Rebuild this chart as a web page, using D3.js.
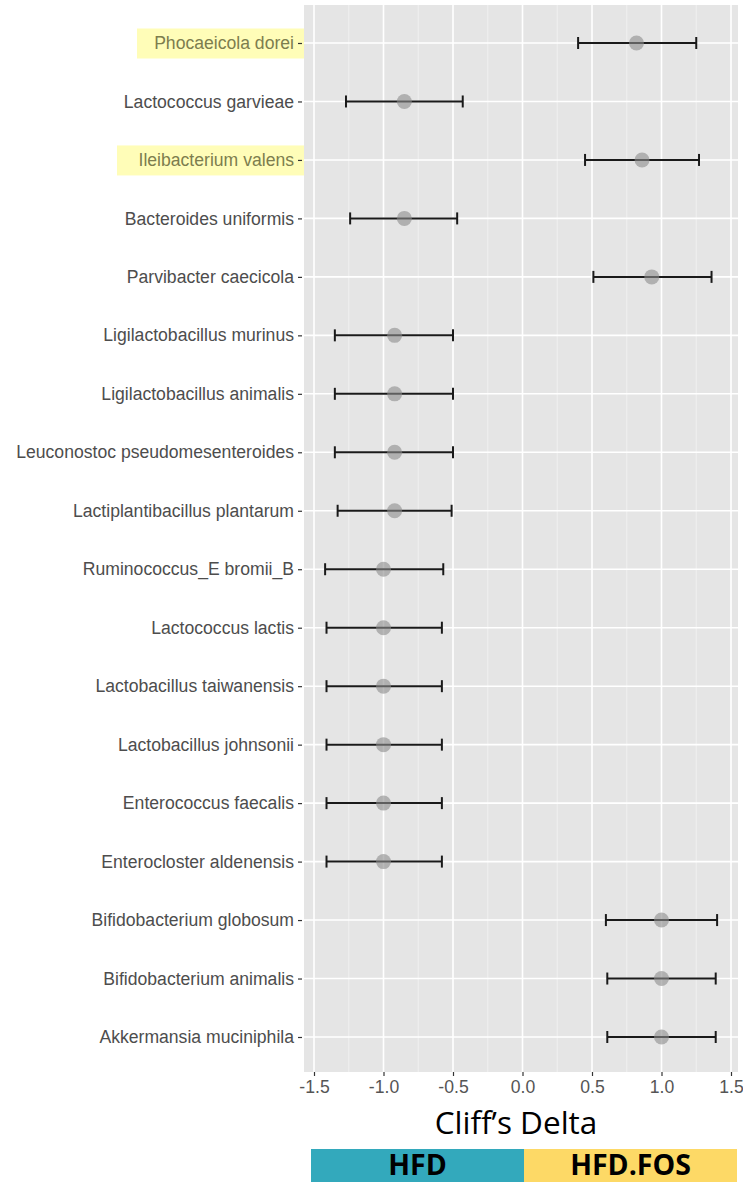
<!DOCTYPE html>
<html><head><meta charset="utf-8">
<script src="https://cdn.jsdelivr.net/npm/d3@7"></script>
<style>body{margin:0;background:#fff}svg{display:block}</style>
</head><body>
<script>
const categories = ["Phocaeicola dorei","Lactococcus garvieae","Ileibacterium valens","Bacteroides uniformis","Parvibacter caecicola","Ligilactobacillus murinus","Ligilactobacillus animalis","Leuconostoc pseudomesenteroides","Lactiplantibacillus plantarum","Ruminococcus_E bromii_B","Lactococcus lactis","Lactobacillus taiwanensis","Lactobacillus johnsonii","Enterococcus faecalis","Enterocloster aldenensis","Bifidobacterium globosum","Bifidobacterium animalis","Akkermansia muciniphila"];
const estimate = [0.82,-0.85,0.86,-0.85,0.93,-0.92,-0.92,-0.92,-0.92,-1.0,-1.0,-1.0,-1.0,-1.0,-1.0,1.0,1.0,1.0];
const lower = [0.40,-1.27,0.45,-1.24,0.51,-1.35,-1.35,-1.35,-1.33,-1.42,-1.41,-1.41,-1.41,-1.41,-1.41,0.60,0.61,0.61];
const upper = [1.25,-0.43,1.27,-0.47,1.36,-0.50,-0.50,-0.50,-0.51,-0.57,-0.58,-0.58,-0.58,-0.58,-0.58,1.40,1.39,1.39];
const highlighted = ["Phocaeicola dorei","Ileibacterium valens"];
const xTicks = [-1.5,-1.0,-0.5,0.0,0.5,1.0,1.5];
const xTickLabels = ["-1.5","-1.0","-0.5","0.0","0.5","1.0","1.5"];
const xTitle = "Cliff\u2019s Delta";
const groups = ["HFD","HFD.FOS"];
const groupColors = ["#33a9bc","#fdd966"];

const W=743,H=1182;
const svg=d3.select("body").append("svg").attr("width",W).attr("height",H);
const pl=304, pr=738, pt=5, pb=1072;
const x=d3.scaleLinear().domain([-1.5,1.5]).range([314,731]);
const y=d3.scalePoint().domain(categories).range([43,1037]);
const axisFont="'Liberation Sans', Arial, sans-serif";
const titleFont="'Open Sans', sans-serif";

svg.append("rect").attr("x",pl).attr("y",pt).attr("width",pr-pl).attr("height",pb-pt).attr("fill","#e5e5e5");
const g=svg.append("g");
const minor=xTicks.slice(0,-1).map((d,i)=>(d+xTicks[i+1])/2);
g.selectAll(".mn").data(minor).join("line").attr("x1",d=>x(d)).attr("x2",d=>x(d)).attr("y1",pt).attr("y2",pb).attr("stroke","#f2f2f2").attr("stroke-width",0.8);
g.selectAll(".mj").data(xTicks).join("line").attr("x1",d=>x(d)).attr("x2",d=>x(d)).attr("y1",pt).attr("y2",pb).attr("stroke","#fff").attr("stroke-width",1.6);
g.selectAll(".hy").data(categories).join("line").attr("x1",pl).attr("x2",pr).attr("y1",d=>y(d)).attr("y2",d=>y(d)).attr("stroke","#fff").attr("stroke-width",1.6);

// highlights
const hlBoxes={"Phocaeicola dorei":[137,304],"Ileibacterium valens":[117,304]};
highlighted.forEach(c=>{
  svg.append("rect").attr("x",hlBoxes[c][0]).attr("y",y(c)-14.5).attr("width",hlBoxes[c][1]-hlBoxes[c][0]).attr("height",30).attr("fill","#fffdb8");
});

// y axis
const yAxis=d3.axisLeft(y).tickSize(4).tickPadding(4);
const ya=svg.append("g").attr("transform",`translate(${pl-2},0)`).call(yAxis);
ya.select(".domain").remove();
ya.selectAll(".tick line").attr("stroke","#333").attr("stroke-width",1.2);
ya.selectAll(".tick text").style("font-family",axisFont).attr("font-size",17.6)
  .attr("fill",d=>highlighted.includes(d)?"#7d7d4e":"#4d4d4d");

// x axis
const xAxis=d3.axisBottom(x).tickValues(xTicks).tickFormat((d,i)=>xTickLabels[i]).tickSize(4).tickPadding(5);
const xa=svg.append("g").attr("transform",`translate(0,${pb})`).call(xAxis);
xa.select(".domain").remove();
xa.selectAll(".tick line").attr("stroke","#333").attr("stroke-width",1.2);
xa.selectAll(".tick text").style("font-family",axisFont).attr("font-size",17.6).attr("fill","#555");

// error bars
const eb=svg.append("g");
categories.forEach((c,i)=>{
  const yy=y(c);
  eb.append("line").attr("x1",x(lower[i])).attr("x2",x(upper[i])).attr("y1",yy).attr("y2",yy).attr("stroke","#1a1a1a").attr("stroke-width",2);
  [lower[i],upper[i]].forEach(v=>eb.append("line").attr("x1",x(v)).attr("x2",x(v)).attr("y1",yy-6).attr("y2",yy+6).attr("stroke","#1a1a1a").attr("stroke-width",2));
});
svg.append("g").selectAll("circle").data(categories).join("circle")
  .attr("cx",(d,i)=>x(estimate[i])).attr("cy",d=>y(d)).attr("r",7.5).attr("fill","#8c8c8c").attr("fill-opacity",0.6);

// x title
svg.append("text").attr("x",516).attr("y",1134).attr("text-anchor","middle").style("font-family",titleFont).attr("font-size",31.5).attr("fill","#000").text(xTitle);

// legend bar
const lx=d3.scaleBand().domain(groups).range([311,737]);
const lg=svg.append("g");
lg.selectAll("rect").data(groups).join("rect").attr("x",d=>lx(d)).attr("y",1149).attr("width",lx.bandwidth()).attr("height",33).attr("fill",(d,i)=>groupColors[i]);
lg.selectAll("text").data(groups).join("text").attr("x",d=>lx(d)+lx.bandwidth()/2).attr("y",1174.5).attr("text-anchor","middle")
  .style("font-family",titleFont).attr("font-weight","bold").attr("font-size",28.5).attr("fill","#000").text(d=>d);
</script>
</body></html>
